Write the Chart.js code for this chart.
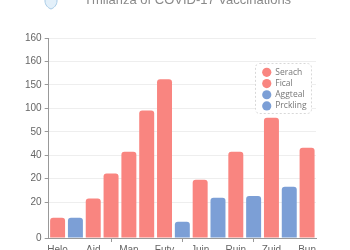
<!DOCTYPE html>
<html>
<head>
<meta charset="utf-8">
<script src="https://cdn.jsdelivr.net/npm/chart.js@4.4.0/dist/chart.umd.min.js"></script>
<style>
  html, body { margin: 0; padding: 0; background: #fff; overflow: hidden; }
  #wrap { position: relative; width: 350px; height: 250px; overflow: hidden; }
  #title { position: absolute; top: -8px; left: 44px; text-align: left;
    font: 13px "Liberation Sans", Arial, sans-serif; color: #8a8a8a; line-height: 16px; white-space: nowrap; }
  #title svg { vertical-align: middle; margin-right: 26px; }
  #box { position: absolute; top: 0; left: 0; width: 350px; height: 258px; }
</style>
</head>
<body>
<div id="wrap">
  <div id="box"><canvas id="chart"></canvas></div>
  <div id="title"><svg width="14" height="18" viewBox="0 0 14 18"><path d="M7 1 L13 3 L13 9 C13 13 10 16 7 17 C4 16 1 13 1 9 L1 3 Z" fill="#e3f0fa" stroke="#a9cbe6" stroke-width="1"/></svg>Tmilariza of COVID-17 Vaccinations</div>
</div>
<script>
const categories = ["Helo", "", "Aid", "", "Man", "", "Futy", "", "Juin", "", "Ruin", "", "Zuid", "", "Bun"];
const serach   = [16.3, null, 31.7, null, 69, null, 127, null, 46.7, null, 69, null, 96.3, null, 72.3];
const fical    = [null, null, null, 51.7, null, 102, null, null, null, null, null, null, null, null, null];
const aggteal  = [null, 16.3, null, null, null, null, null, 13, null, null, null, null, null, null, null];
const prckling = [null, null, null, null, null, null, null, null, null, 32.3, null, 33.6, null, 41, null];
const yTickValues = [0, 28.75, 47.5, 66.25, 85, 103.75, 122.5, 141.25, 160];
const yTickLabels = ["0", "20", "20", "40", "50", "100", "150", "160", "160"];

const red = "#f98580";
const blue = "#7c9fd6";

// legend frame drawn over the grid, then the legend again on top
const legendFrame = {
  id: "legendFrame",
  afterLayout(chart) {
    const lg = chart.legend;
    lg.left = 259.8; lg.top = 65.4; lg.right = 311; lg.bottom = 113;
  },
  afterDatasetsDraw(chart) {
    const ctx = chart.ctx;
    ctx.save();
    ctx.beginPath();
    ctx.roundRect(255.5, 63.5, 56, 50, 4);
    ctx.fillStyle = "#fff";
    ctx.fill();
    ctx.setLineDash([2, 2]);
    ctx.strokeStyle = "#d8d8d8";
    ctx.lineWidth = 1;
    ctx.stroke();
    ctx.restore();
    chart.legend.draw();
  }
};

function ds(label, data, color) {
  return {
    label: label,
    data: data,
    backgroundColor: color,
    borderRadius: { topLeft: 3, topRight: 3 },
    borderSkipped: "bottom",
    grouped: false,
    categoryPercentage: 1,
    barPercentage: 0.84
  };
}

new Chart(document.querySelector("#chart"), {
  type: "bar",
  data: {
    labels: categories,
    datasets: [
      ds("Serach", serach, red),
      ds("Fical", fical, red),
      ds("Aggteal", aggteal, blue),
      ds("Prckling", prckling, blue)
    ]
  },
  options: {
    responsive: true,
    maintainAspectRatio: false,
    animation: false,
    layout: { padding: { top: 38, left: 22, right: 34, bottom: 0 } },
    plugins: {
      title: { display: false },
      tooltip: { enabled: false },
      legend: {
        position: "chartArea",
        align: "start",
        labels: {
          usePointStyle: true,
          pointStyle: "circle",
          boxWidth: 9,
          boxHeight: 6.5,
          padding: 2.7,
          color: "#777",
          font: { size: 8.5, family: "Open Sans" }
        }
      }
    },
    scales: {
      x: {
        grid: { drawOnChartArea: false, tickLength: 4, color: "#999" },
        border: { color: "#999" },
        ticks: {
          maxRotation: 0,
          autoSkip: true,
          maxTicksLimit: 8,
          padding: 2,
          color: "#666",
          font: { size: 10, family: "Liberation Sans" }
        }
      },
      y: {
        min: 0,
        max: 160,
        afterBuildTicks(axis) {
          axis.ticks = yTickValues.map(v => ({ value: v }));
        },
        grid: { color: "#eeeeee", tickLength: 4, tickColor: "#999" },
        border: { color: "#999" },
        ticks: {
          padding: 3,
          color: "#666",
          font: { size: 10, family: "Liberation Sans" },
          callback: (v, i) => yTickLabels[i]
        }
      }
    }
  },
  plugins: [legendFrame]
});
</script>
</body>
</html>
